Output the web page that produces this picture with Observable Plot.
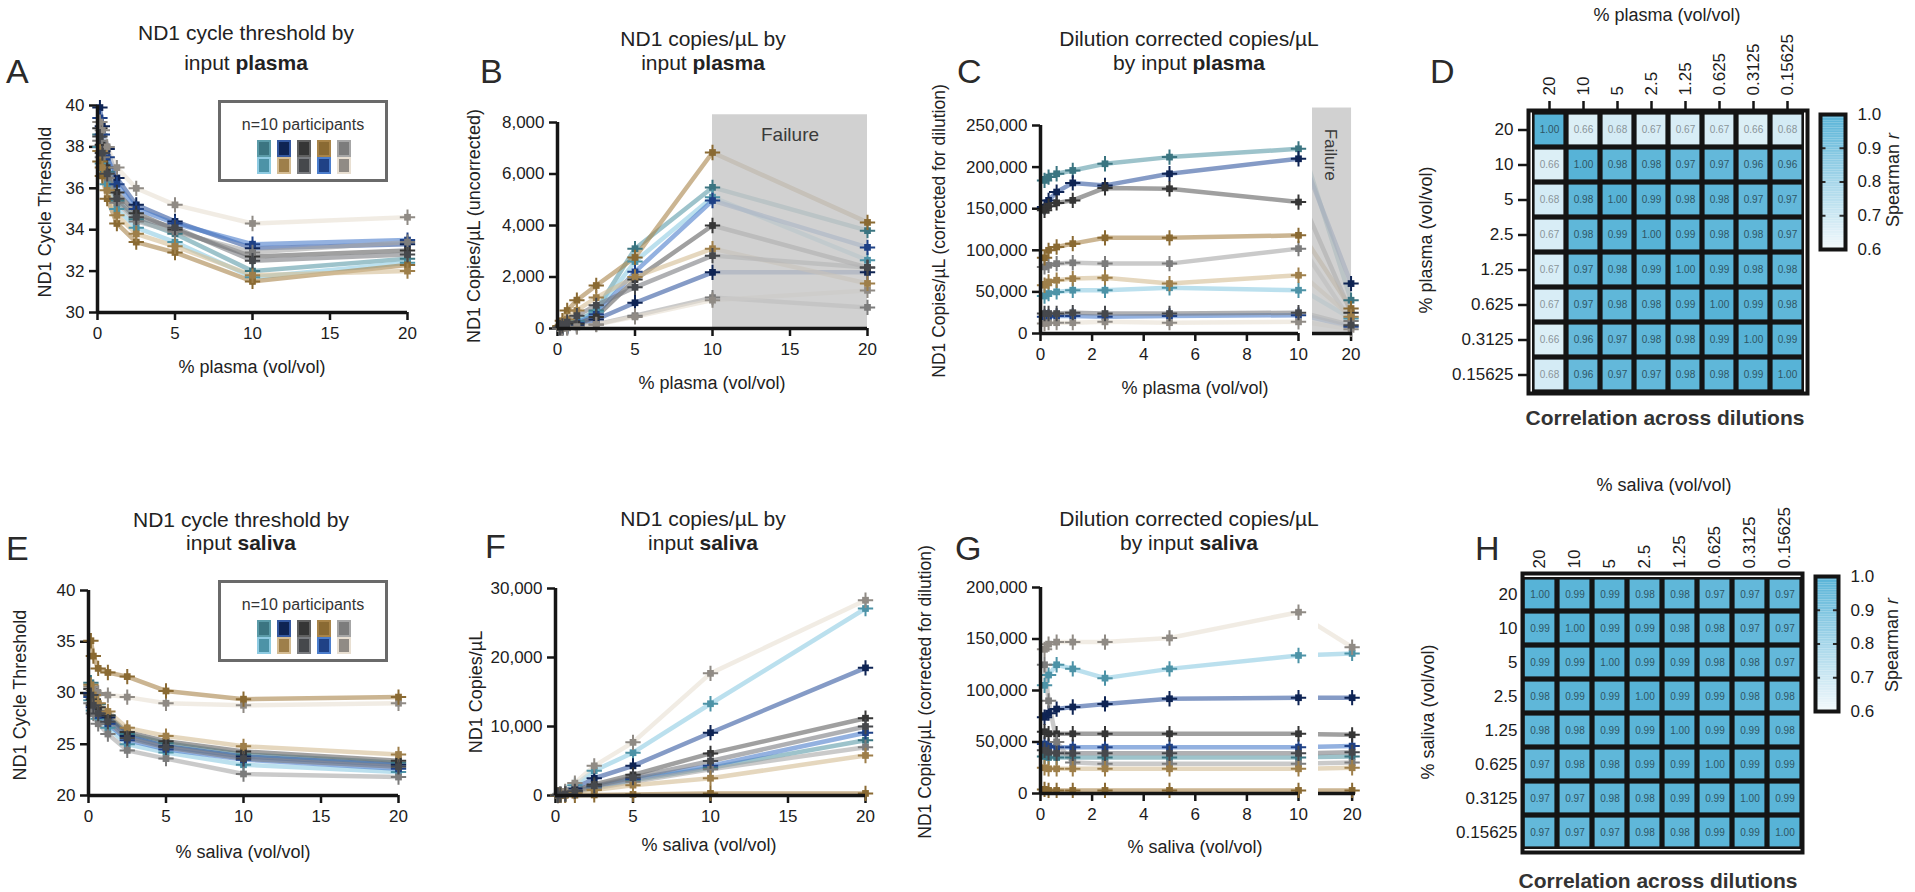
<!DOCTYPE html>
<html><head><meta charset="utf-8">
<script src="https://cdn.jsdelivr.net/npm/d3@7"></script>
<script src="https://cdn.jsdelivr.net/npm/@observablehq/plot@0.6"></script>
<style>
body{margin:0;background:#fff;font-family:"Liberation Sans",Arial,sans-serif;color:#222}
#fig{position:relative;width:1915px;height:892px;overflow:hidden;background:#fff}
.abs{position:absolute;white-space:nowrap;line-height:1}
#fig svg{overflow:visible}
#fig g[aria-label="x-axis tick"] path,#fig g[aria-label="y-axis tick"] path,
#fig g[aria-label="x-axis"] .tick line,#fig g[aria-label="y-axis"] .tick line{stroke-width:2.5px;stroke:#151515}
</style></head><body><div id="fig"></div>
<script>
// ---------- data ----------
const dilutions = [0.15625, 0.3125, 0.625, 1.25, 2.5, 5, 10, 20];
const participants = ["teal", "lightblue", "navy", "blue", "darkgray", "gray", "beige", "gold", "tan", "charcoal"];
const lineColors = ["#5b9ba8", "#8ecbe2", "#3458a0", "#4b7dcc", "#606060", "#a6a6a6", "#e8dfd2", "#a88449", "#d4bc93", "#7a7c80"];
const markerColors = ["#3b7581", "#4d93a7", "#0f2454", "#1f4186", "#363636", "#7c7c7c", "#908b85", "#8a6a33", "#9e7f4a", "#46484c"];
const legendRow1 = [0, 2, 4, 7, 5];
const legendRow2 = [1, 8, 9, 3, 6];

// A: ND1 cycle threshold, plasma
const ctPlasma = [
  [38.6, 37.8, 36.8, 35.4, 34.5, 33.8, 32.0, 32.6],
  [38.0, 37.2, 36.2, 35.0, 34.1, 33.4, 31.7, 32.4],
  [39.9, 39.0, 37.9, 36.5, 35.2, 34.4, 33.1, 33.3],
  [39.4, 38.6, 37.5, 36.2, 35.0, 34.3, 33.3, 33.5],
  [38.9, 38.1, 37.0, 35.8, 34.8, 34.0, 32.7, 33.0],
  [38.3, 37.5, 36.5, 35.3, 34.4, 33.9, 32.9, 33.4],
  [39.2, 38.8, 38.0, 37.0, 36.0, 35.2, 34.3, 34.6],
  [37.3, 36.6, 35.5, 34.3, 33.4, 32.9, 31.5, 32.3],
  [37.8, 37.0, 35.9, 34.7, 33.8, 33.2, 31.8, 32.0],
  [38.5, 37.7, 36.7, 35.5, 34.6, 34.1, 32.5, 32.8]
];
// B: ND1 copies/uL, plasma
const copiesPlasma = [
  [30, 60, 130, 280, 700, 3100, 5480, 3800],
  [25, 55, 120, 260, 650, 2600, 5100, 2650],
  [10, 25, 60, 130, 350, 1000, 2180, 2180],
  [20, 45, 100, 220, 550, 2200, 4970, 3150],
  [15, 35, 80, 180, 450, 1900, 4000, 2370],
  [5, 15, 30, 70, 160, 500, 1200, 820],
  [5, 12, 30, 60, 150, 450, 1100, 1480],
  [100, 300, 700, 1100, 1670, 2760, 6835, 4120],
  [60, 150, 350, 700, 1200, 2000, 3100, 1750],
  [40, 100, 250, 500, 900, 1600, 2830, 2370]
];
// C: dilution corrected copies/uL, plasma
const correctedPlasma = [
  [184000, 188000, 192000, 196000, 204000, 212000, 222000, 40000],
  [45000, 48000, 50000, 52000, 52000, 55000, 52000, 18000],
  [152000, 160000, 170000, 181000, 178000, 192000, 210000, 60000],
  [20000, 20000, 21000, 21000, 20000, 21000, 22000, 8000],
  [148000, 153000, 157000, 160000, 175000, 174000, 158000, 25000],
  [80000, 82000, 84000, 85000, 84000, 84000, 102000, 15000],
  [12000, 13000, 13000, 13000, 14000, 13000, 14000, 5000],
  [91000, 100000, 104000, 108000, 115000, 115000, 118000, 30000],
  [58000, 62000, 64000, 66000, 67000, 60000, 70000, 20000],
  [24000, 24000, 24000, 25000, 24000, 24000, 25000, 10000]
];
// E: ND1 cycle threshold, saliva
const ctSaliva = [
  [31.0, 29.9, 28.9, 27.8, 26.0, 25.1, 24.0, 23.2],
  [29.3, 28.3, 27.5, 26.6, 25.0, 24.2, 23.0, 22.3],
  [30.0, 29.0, 28.2, 27.6, 25.8, 24.8, 23.8, 23.0],
  [29.6, 28.6, 27.8, 27.0, 25.4, 24.5, 23.5, 22.6],
  [30.4, 29.4, 28.6, 27.8, 26.2, 25.3, 24.3, 23.4],
  [29.0, 28.0, 27.0, 26.0, 24.4, 23.6, 22.1, 21.8],
  [30.6, 30.3, 30.0, 29.8, 29.6, 29.0, 28.8, 29.0],
  [35.1, 33.6, 32.4, 32.0, 31.6, 30.2, 29.4, 29.6],
  [30.8, 29.8, 29.0, 28.2, 26.6, 25.8, 24.8, 24.0],
  [29.8, 28.8, 28.0, 27.2, 25.6, 24.7, 23.6, 22.8]
];
// F: ND1 copies/uL, saliva
const copiesSaliva = [
  [30, 70, 180, 500, 1200, 2200, 4000, 8000],
  [90, 220, 500, 1500, 3600, 6200, 13300, 27100],
  [60, 150, 350, 1000, 2500, 4300, 9100, 18500],
  [30, 80, 200, 600, 1300, 2400, 4300, 9100],
  [40, 100, 250, 700, 1600, 3000, 6100, 11200],
  [25, 60, 160, 450, 1000, 2000, 3800, 7000],
  [100, 250, 600, 1800, 4300, 7700, 17700, 28300],
  [5, 10, 20, 40, 80, 150, 300, 300],
  [20, 50, 120, 350, 800, 1500, 2500, 5800],
  [35, 90, 220, 600, 1400, 2600, 5000, 10000]
];
// G: dilution corrected copies/uL, saliva
const correctedSaliva = [
  [36000, 35000, 35000, 35000, 35000, 35000, 35000, 36000],
  [105000, 115000, 125000, 121000, 112000, 121000, 134000, 136000],
  [74000, 78000, 82000, 84000, 87000, 92000, 93000, 93000],
  [48000, 46000, 45000, 45000, 45000, 45000, 45000, 46000],
  [60000, 58000, 58000, 58000, 58000, 58000, 58000, 57000],
  [125000, 90000, 50000, 30000, 29000, 29000, 29000, 30000],
  [140000, 145000, 147000, 147000, 147000, 151000, 176000, 142000],
  [4000, 3000, 3000, 3000, 3000, 3000, 3000, 3000],
  [25000, 24000, 24000, 24000, 24000, 24000, 24000, 25000],
  [42000, 40000, 39000, 39000, 39000, 39000, 39000, 40000]
];
const failureRange = [10, 20];

// D / H: correlation across dilutions
const heatLabels = ["20", "10", "5", "2.5", "1.25", "0.625", "0.3125", "0.15625"];
const corrPlasma = [
  [1.00, 0.66, 0.68, 0.67, 0.67, 0.67, 0.66, 0.68],
  [0.66, 1.00, 0.98, 0.98, 0.97, 0.97, 0.96, 0.96],
  [0.68, 0.98, 1.00, 0.99, 0.98, 0.98, 0.97, 0.97],
  [0.67, 0.98, 0.99, 1.00, 0.99, 0.98, 0.98, 0.97],
  [0.67, 0.97, 0.98, 0.99, 1.00, 0.99, 0.98, 0.98],
  [0.67, 0.97, 0.98, 0.98, 0.99, 1.00, 0.99, 0.98],
  [0.66, 0.96, 0.97, 0.98, 0.98, 0.99, 1.00, 0.99],
  [0.68, 0.96, 0.97, 0.97, 0.98, 0.98, 0.99, 1.00]
];
const corrSaliva = [
  [1.00, 0.99, 0.99, 0.98, 0.98, 0.97, 0.97, 0.97],
  [0.99, 1.00, 0.99, 0.99, 0.98, 0.98, 0.97, 0.97],
  [0.99, 0.99, 1.00, 0.99, 0.99, 0.98, 0.98, 0.97],
  [0.98, 0.99, 0.99, 1.00, 0.99, 0.99, 0.98, 0.98],
  [0.98, 0.98, 0.99, 0.99, 1.00, 0.99, 0.99, 0.98],
  [0.97, 0.98, 0.98, 0.99, 0.99, 1.00, 0.99, 0.99],
  [0.97, 0.97, 0.98, 0.98, 0.99, 0.99, 1.00, 0.99],
  [0.97, 0.97, 0.97, 0.98, 0.98, 0.99, 0.99, 1.00]
];
const colorbarTicks = [0.6, 0.7, 0.8, 0.9, 1.0];
const heatLow = "#f3f9fc", heatHigh = "#57b3d7";

// ---------- helpers ----------
const fig = document.getElementById("fig");
const FONT = "'Liberation Sans', Arial, Helvetica, sans-serif";
const baseStyle = {background: "transparent", fontSize: "17px", fontFamily: FONT, color: "#1c1c1c", overflow: "visible"};

function place(el, left, top) {
  el.style.position = "absolute";
  el.style.left = left + "px";
  el.style.top = top + "px";
  fig.appendChild(el);
}
function addText(html, x, y, {size = 18, weight = "normal", anchor = "middle", color = "#222", rotate = 0} = {}) {
  const d = document.createElement("div");
  d.className = "abs";
  d.innerHTML = html;
  d.style.fontSize = size + "px";
  d.style.fontWeight = weight;
  d.style.color = color;
  d.style.left = x + "px";
  d.style.top = y + "px";
  const tx = anchor === "middle" ? "-50%" : anchor === "end" ? "-100%" : "0";
  d.style.transform = `translate(${tx},-50%)` + (rotate ? ` rotate(${rotate}deg)` : "");
  fig.appendChild(d);
}

function linePanel(o) {
  const ML = 70, MR = 20, MT = 20, MB = 50;
  const lineFilter = o.lineFilter || (() => true);
  const dotFilter = o.dotFilter || (() => true);
  const marks = [];
  o.series.forEach((vals, i) => {
    const rows = dilutions.map((x, j) => ({x, y: vals[j]})).filter(d => lineFilter(d.x));
    marks.push(Plot.line(rows, {x: "x", y: "y", stroke: lineColors[i], strokeWidth: 4.5, strokeOpacity: 0.6, clip: !!o.clip}));
  });
  if (o.before) marks.push(...o.before);
  o.series.forEach((vals, i) => {
    const rows = dilutions.map((x, j) => ({x, y: vals[j]})).filter(d => dotFilter(d.x));
    marks.push(Plot.dot(rows, {x: "x", y: "y", symbol: "square", r: 3.8, fill: markerColors[i]}));
    marks.push(Plot.dot(rows, {x: "x", y: "y", symbol: "plus", r: 5, stroke: markerColors[i], strokeWidth: 2}));
  });
  if (o.after) marks.push(...o.after);
  marks.push(Plot.ruleY([o.yDomain[0]], {stroke: "#151515", strokeWidth: 3.5}));
  if (o.showY !== false) marks.push(Plot.ruleX([o.xDomain[0]], {stroke: "#151515", strokeWidth: 3.5}));
  const svg = Plot.plot({
    width: ML + (o.x1 - o.x0) + MR,
    height: MT + (o.yBot - o.yTop) + MB,
    marginLeft: ML, marginRight: MR, marginTop: MT, marginBottom: MB,
    x: {domain: o.xDomain, ticks: o.xTicks, tickSize: 8, tickPadding: 6, label: null, tickFormat: d => String(d)},
    y: o.showY === false ? {domain: o.yDomain, axis: null}
                         : {domain: o.yDomain, ticks: o.yTicks, tickSize: 8, tickPadding: 5, label: null, tickFormat: o.yFormat},
    style: baseStyle,
    marks
  });
  place(svg, o.x0 - ML, o.yTop - MT);
}

function heatPanel(o) {
  const ML = 110, MT = 110, MR = 8, MB = 8;
  const cells = [];
  o.matrix.forEach((row, i) => row.forEach((v, j) => cells.push({row: heatLabels[i], col: heatLabels[j], v})));
  const fmt = d3.format(".2f");
  const svg = Plot.plot({
    width: ML + (o.x1 - o.x0) + MR,
    height: MT + (o.yBot - o.yTop) + MB,
    marginLeft: ML, marginRight: MR, marginTop: MT, marginBottom: MB,
    x: {type: "band", domain: heatLabels, axis: "top", tickRotate: -90, tickSize: o.tickSize, tickPadding: 5, label: null, padding: 0},
    y: {type: "band", domain: heatLabels, tickSize: o.tickSize, tickPadding: 5, label: null, padding: 0},
    color: {type: "linear", domain: [0.6, 1], range: [heatLow, heatHigh]},
    style: baseStyle,
    marks: [
      Plot.cell(cells, {x: "col", y: "row", fill: "#141414"}),
      Plot.cell(cells, {x: "col", y: "row", fill: "v", inset: 2.6}),
      Plot.text(cells.filter(d => d.v >= 0.85), {x: "col", y: "row", text: d => fmt(d.v), fill: "#2e5564", fontSize: 10}),
      Plot.text(cells.filter(d => d.v < 0.85), {x: "col", y: "row", text: d => fmt(d.v), fill: "#8a9499", fontSize: 10}),
      Plot.frame({stroke: "#141414", strokeWidth: 4})
    ]
  });
  place(svg, o.x0 - ML, o.yTop - MT);
}

function colorbar(o) {
  const ML = 4, MR = 50, MT = 8, MB = 8;
  const ramp = d3.range(0.6, 1.0, 0.005);
  const svg = Plot.plot({
    width: ML + (o.x1 - o.x0) + MR,
    height: MT + (o.yBot - o.yTop) + MB,
    marginLeft: ML, marginRight: MR, marginTop: MT, marginBottom: MB,
    x: {domain: [0, 1], axis: null},
    y: {domain: [0.6, 1.0], ticks: colorbarTicks, tickFormat: d3.format(".1f"), axis: "right", tickSize: 0, tickPadding: 12, label: null},
    color: {type: "linear", domain: [0.6, 1], range: [heatLow, heatHigh]},
    style: baseStyle,
    marks: [
      Plot.rect(ramp, {x1: 0, x2: 1, y1: d => d, y2: d => d + 0.0052, fill: d => d + 0.0025}),
      Plot.ruleY(colorbarTicks.slice(1, 4), {x1: 0, x2: 0.22, stroke: "#2a2a2a", strokeWidth: 2}),
      Plot.ruleY(colorbarTicks.slice(1, 4), {x1: 0.78, x2: 1, stroke: "#2a2a2a", strokeWidth: 2}),
      Plot.frame({stroke: "#141414", strokeWidth: 4})
    ]
  });
  place(svg, o.x0 - ML, o.yTop - MT);
}

function legendBox(top) {
  const box = document.createElement("div");
  box.style.cssText = "position:absolute;left:218px;top:" + top + "px;width:170px;height:82px;border:3.5px solid #6a6a6a;box-sizing:border-box;background:#fff";
  fig.appendChild(box);
  addText("n=10 participants", 303, top + 25, {size: 16, color: "#333"});
  [legendRow1, legendRow2].forEach((row, r) => {
    row.forEach((p, c) => {
      const s = document.createElement("div");
      s.style.cssText = `position:absolute;width:10px;height:13px;background:${markerColors[p]};outline:2px solid ${lineColors[p]};left:${259 + c * 20}px;top:${top + 42 + r * 17}px`;
      fig.appendChild(s);
    });
  });
}

const fmtComma = d3.format(",");

// ---------- panels ----------
// A
linePanel({x0: 97, x1: 407, yTop: 105, yBot: 312, xDomain: [0, 20], yDomain: [30, 40],
  xTicks: [0, 5, 10, 15, 20], yTicks: [30, 32, 34, 36, 38, 40], yFormat: d => String(d), series: ctPlasma});
// B
linePanel({x0: 557, x1: 867, yTop: 122, yBot: 328, xDomain: [0, 20], yDomain: [0, 8000],
  xTicks: [0, 5, 10, 15, 20], yTicks: [0, 2000, 4000, 6000, 8000], yFormat: fmtComma, series: copiesPlasma,
  before: [
    Plot.rect([failureRange], {x1: d => d[0], x2: d => d[1], y1: 0, y2: 8300, fill: "#c4c4c4", fillOpacity: 0.78}),
    Plot.text([failureRange], {x: d => (d[0] + d[1]) / 2, y: 7500, text: () => "Failure", fontSize: 19, fill: "#3a3a3a"})
  ]});
// C main
linePanel({x0: 1040, x1: 1298, yTop: 125, yBot: 333, xDomain: [0, 10], yDomain: [0, 250000],
  xTicks: [0, 2, 4, 6, 8, 10], yTicks: [0, 50000, 100000, 150000, 200000, 250000], yFormat: fmtComma,
  series: correctedPlasma, lineFilter: x => x <= 10, dotFilter: x => x <= 10});
// C broken segment
linePanel({x0: 1312, x1: 1352, yTop: 125, yBot: 333, xDomain: [12, 20.3], yDomain: [0, 250000],
  xTicks: [20], showY: false, clip: true,
  series: correctedPlasma, lineFilter: x => x >= 10, dotFilter: x => x === 20,
  before: [
    Plot.rect([failureRange], {x1: 12, x2: d => d[1] + 0.1, y1: 0, y2: 271000, fill: "#c4c4c4", fillOpacity: 0.78}),
    Plot.text([failureRange], {x: 15.8, y: 215000, text: () => "Failure", rotate: 90, fontSize: 17, fill: "#3a3a3a"})
  ]});
// E
linePanel({x0: 88, x1: 398, yTop: 590, yBot: 795, xDomain: [0, 20], yDomain: [20, 40],
  xTicks: [0, 5, 10, 15, 20], yTicks: [20, 25, 30, 35, 40], yFormat: d => String(d), series: ctSaliva});
// F
linePanel({x0: 555, x1: 865, yTop: 588, yBot: 795, xDomain: [0, 20], yDomain: [0, 30000],
  xTicks: [0, 5, 10, 15, 20], yTicks: [0, 10000, 20000, 30000], yFormat: fmtComma, series: copiesSaliva});
// G main
linePanel({x0: 1040, x1: 1298, yTop: 587, yBot: 793, xDomain: [0, 10], yDomain: [0, 200000],
  xTicks: [0, 2, 4, 6, 8, 10], yTicks: [0, 50000, 100000, 150000, 200000], yFormat: fmtComma,
  series: correctedSaliva, lineFilter: x => x <= 10, dotFilter: x => x <= 10});
// G broken segment
linePanel({x0: 1318, x1: 1355, yTop: 587, yBot: 793, xDomain: [14, 20.6], yDomain: [0, 200000],
  xTicks: [20], showY: false, clip: true,
  series: correctedSaliva, lineFilter: x => x >= 10, dotFilter: x => x === 20});

// D / H heatmaps
heatPanel({x0: 1528, x1: 1807, yTop: 110, yBot: 393, matrix: corrPlasma, tickSize: 10});
heatPanel({x0: 1522, x1: 1802, yTop: 573, yBot: 852, matrix: corrSaliva, tickSize: 0});
colorbar({x0: 1820, x1: 1845, yTop: 114, yBot: 249});
colorbar({x0: 1815, x1: 1838, yTop: 576, yBot: 711});

// legends
legendBox(100);
legendBox(580);

// ---------- text ----------
const T = 21;
addText("ND1 cycle threshold by", 246, 32, {size: T});
addText("input <b>plasma</b>", 246, 62, {size: T});
addText("ND1 copies/µL by", 703, 38, {size: T});
addText("input <b>plasma</b>", 703, 62, {size: T});
addText("Dilution corrected copies/µL", 1189, 38, {size: T});
addText("by input <b>plasma</b>", 1189, 62, {size: T});
addText("ND1 cycle threshold by", 241, 519, {size: T});
addText("input <b>saliva</b>", 241, 542, {size: T});
addText("ND1 copies/µL by", 703, 518, {size: T});
addText("input <b>saliva</b>", 703, 542, {size: T});
addText("Dilution corrected copies/µL", 1189, 518, {size: T});
addText("by input <b>saliva</b>", 1189, 542, {size: T});

// panel letters
[["A", 6, 71], ["B", 480, 71], ["C", 957, 71], ["D", 1430, 71],
 ["E", 6, 548], ["F", 485, 546], ["G", 955, 548], ["H", 1475, 548]]
  .forEach(([l, x, y]) => addText(l, x, y, {size: 34, anchor: "start", color: "#2a2a2a"}));

// axis titles
const AX = 18;
addText("% plasma (vol/vol)", 252, 367, {size: AX});
addText("% plasma (vol/vol)", 712, 383, {size: AX});
addText("% plasma (vol/vol)", 1195, 388, {size: AX});
addText("% saliva (vol/vol)", 243, 852, {size: AX});
addText("% saliva (vol/vol)", 709, 845, {size: AX});
addText("% saliva (vol/vol)", 1195, 847, {size: AX});
addText("ND1 Cycle Threshold", 45, 212, {size: AX, rotate: -90});
addText("ND1 Copies/µL (uncorrected)", 474, 226, {size: AX, rotate: -90});
addText("ND1 Copies/µL (corrected for dilution)", 940, 231, {size: 17.5, rotate: -90});
addText("ND1 Cycle Threshold", 20, 695, {size: AX, rotate: -90});
addText("ND1 Copies/µL", 476, 692, {size: AX, rotate: -90});
addText("ND1 Copies/µL (corrected for dilution)", 926, 692, {size: 17.5, rotate: -90});

// heatmap titles
addText("% plasma (vol/vol)", 1667, 15, {size: AX});
addText("% plasma (vol/vol)", 1426, 240, {size: AX, rotate: -90});
addText("Correlation across dilutions", 1665, 417, {size: 21, weight: "bold", color: "#333"});
addText("Spearman <i>r</i>", 1893, 180, {size: AX, rotate: -90});
addText("% saliva (vol/vol)", 1664, 485, {size: AX});
addText("% saliva (vol/vol)", 1428, 712, {size: AX, rotate: -90});
addText("Correlation across dilutions", 1658, 880, {size: 21, weight: "bold", color: "#333"});
addText("Spearman <i>r</i>", 1892, 645, {size: AX, rotate: -90});
</script></body></html>
